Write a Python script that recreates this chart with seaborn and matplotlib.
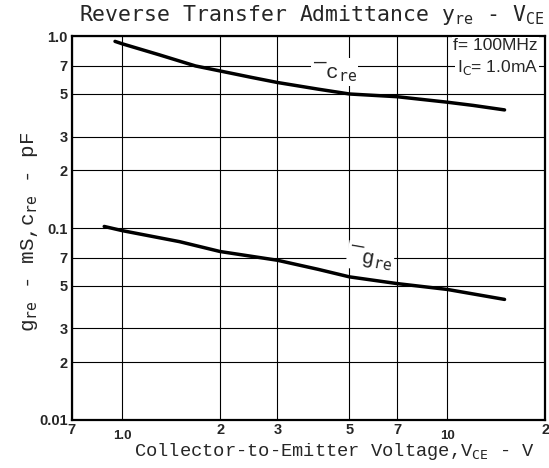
import pandas as pd
import matplotlib
matplotlib.use("Agg")
import matplotlib.pyplot as plt
import matplotlib.ticker as mticker
import seaborn as sns

# values
vce = [0.95, 1.0, 1.3, 1.68, 2.0, 2.5, 3.0, 4.0, 5.0, 7.0, 10.0, 12.0, 15.0]
cre = [0.94, 0.913, 0.80, 0.70, 0.659, 0.61, 0.574, 0.53, 0.50, 0.484, 0.453, 0.436, 0.413]
vce_g = [0.88, 1.0, 1.5, 2.0, 3.0, 4.0, 5.0, 7.0, 10.0, 15.0]
gre = [0.102, 0.097, 0.085, 0.0755, 0.068, 0.061, 0.0557, 0.0514, 0.0479, 0.0425]

x_major = [1.0, 10.0]
x_major_labels = ["1.0", "10"]
x_minor = [0.7, 2, 3, 5, 7, 20]
x_minor_labels = ["7", "2", "3", "5", "7", "2"]
y_ticks = [0.01, 0.02, 0.03, 0.05, 0.07, 0.1, 0.2, 0.3, 0.5, 0.7, 1.0]
y_labels = ["0.01", "2", "3", "5", "7", "0.1", "2", "3", "5", "7", "1.0"]

df = pd.concat([
    pd.DataFrame({"vce": vce, "val": cre, "curve": "cre"}),
    pd.DataFrame({"vce": vce_g, "val": gre, "curve": "gre"}),
])

sns.set_theme(style="white")
mono = "Liberation Mono"

fig = plt.figure(figsize=(5.49, 4.68), dpi=100)
ax = fig.add_axes([0.131, 0.1026, 0.862, 0.820])

sns.lineplot(data=df, x="vce", y="val", units="curve", estimator=None,
             color="black", linewidth=2.5, ax=ax, legend=False, sort=True)

ax.set_xscale("log")
ax.set_yscale("log")
ax.set_xlim(0.7, 20)
ax.set_ylim(0.01, 1.0)

ax.xaxis.set_major_locator(mticker.FixedLocator(x_major))
ax.xaxis.set_major_formatter(mticker.FixedFormatter(x_major_labels))
ax.xaxis.set_minor_locator(mticker.FixedLocator(x_minor))
ax.xaxis.set_minor_formatter(mticker.FixedFormatter(x_minor_labels))
ax.yaxis.set_major_locator(mticker.FixedLocator(y_ticks))
ax.yaxis.set_major_formatter(mticker.FixedFormatter(y_labels))
ax.yaxis.set_minor_locator(mticker.NullLocator())

ax.tick_params(axis="x", which="major", length=0, pad=7, labelsize=9.5)
ax.tick_params(axis="x", which="minor", length=0, pad=2, labelsize=10.5)
ax.tick_params(axis="y", which="major", length=0, pad=3, labelsize=10.5)
for lab in ax.get_xticklabels(which="both") + ax.get_yticklabels():
    lab.set_fontweight("bold")
    lab.set_family("Liberation Sans")

ax.grid(True, which="both", color="black", linewidth=0.8)
for s in ax.spines.values():
    s.set_color("black")
    s.set_linewidth(1.6)

ax.set_xlabel("Collector-to-Emitter Voltage,V$_{\\mathtt{CE}}$ - V",
              family=mono, fontsize=13.5)
ax.xaxis.set_label_coords(0.555, -0.055)
ax.set_ylabel("g$_{\\mathtt{re}}$ - mS,c$_{\\mathtt{re}}$ - pF",
              family=mono, fontsize=15)
ax.yaxis.set_label_coords(-0.068, 0.49)
fig.text(0.567, 0.967, "Reverse Transfer Admittance y$_{\\mathtt{re}}$ - V$_{\\mathtt{CE}}$",
         family="DejaVu Sans Mono", fontsize=15.5, ha="center", va="center")

box = dict(facecolor="white", edgecolor="none", pad=1)
ax.text(4.5, 0.65, "\u00afc$_{\\mathtt{re}}$", family=mono, fontsize=15,
        ha="center", va="center", bbox=box)
ax.text(5.8, 0.070, "\u00afg$_{\\mathtt{re}}$", family=mono, fontsize=15,
        ha="center", va="center", rotation=-10, bbox=box)
ax.text(19.0, 0.895, "f= 100MHz", family="Liberation Sans", fontsize=12.5,
        ha="right", va="center", bbox=box)
ax.text(19.0, 0.685, "I$_{\\mathrm{C}}$= 1.0mA", family="Liberation Sans", fontsize=12.5,
        ha="right", va="center", bbox=box)

fig.savefig("out.png", dpi=100)
